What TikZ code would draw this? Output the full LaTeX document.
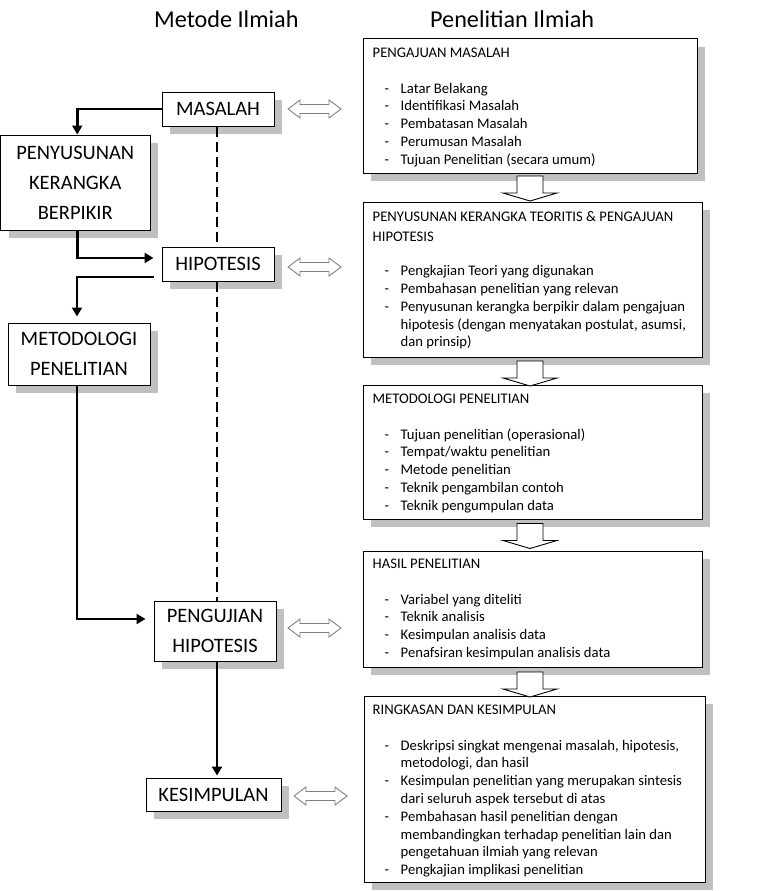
\documentclass[tikz,border=0pt]{standalone}
\usepackage{fontspec}
\setmainfont{Carlito}
\usetikzlibrary{arrows.meta,shadows,calc}
\definecolor{shd}{HTML}{C0C0C0}
\definecolor{dblc}{HTML}{7F7F7F}
\newcommand\rtext[1]{\parbox[t]{322pt}{\fontsize{14.67}{17.8}\selectfont\raggedright #1}}
\newcommand\ritem[1]{\par\noindent\hangindent=28pt\hangafter=1\makebox[28pt][l]{\hspace{12pt}-}#1}
\tikzset{
  lbox/.style={draw, fill=white, line width=1pt, align=center, inner sep=0pt,
    font=\fontsize{20.5}{30}\selectfont,
    drop shadow={shadow xshift=8pt, shadow yshift=-8pt, fill=shd, opacity=1}},
  rbox/.style={draw, fill=white, line width=1pt, inner sep=0pt,
    drop shadow={shadow xshift=8pt, shadow yshift=-8pt, fill=shd, opacity=1}},
  conn/.style={line width=2.6pt, -{Triangle[width=10pt,length=9pt]}},
  dsh/.style={line width=1.6pt, dash pattern=on 10pt off 5pt},
  dblarrow/.pic={\draw[dblc, fill=white, line width=0.9pt] (-26.5,0) -- (-14.5,-9) -- (-14.5,-4.5) -- (14.5,-4.5) -- (14.5,-9) -- (26.5,0) -- (14.5,9) -- (14.5,4.5) -- (-14.5,4.5) -- (-14.5,9) -- cycle;},
  downarr/.pic={\draw[black, fill=white, line width=0.9pt] (-13,-12.5) -- (13,-12.5) -- (13,4.5) -- (27,4.5) -- (0,12.5) -- (-27,4.5) -- (-13,4.5) -- cycle;}
}
\begin{document}
\begin{tikzpicture}[x=1pt,y=-1pt]
\useasboundingbox (0,0) rectangle (768,891);
\fill[white] (0,0) rectangle (768,891);
% titles
\node[anchor=base west, inner sep=0, font=\fontsize{24.2}{28}\selectfont] (tl) at (154,28) {Metode Ilmiah};
\node[anchor=base west, inner sep=0, font=\fontsize{24.2}{28}\selectfont] (tr) at (430,28) {Penelitian Ilmiah};
% left boxes
\node[lbox, minimum width=112pt, minimum height=34pt] (mas) at (218,109) {MASALAH};
\node[lbox, minimum width=149.5pt, minimum height=95pt] (pen) at (75.25,182.5) {PENYUSUNAN\\KERANGKA\\BERPIKIR};
\node[lbox, minimum width=112pt, minimum height=34pt] (hip) at (218,264) {HIPOTESIS};
\node[lbox, minimum width=142pt, minimum height=62pt] (met) at (79,354) {METODOLOGI\\PENELITIAN};
\node[lbox, minimum width=122pt, minimum height=60pt] (pgj) at (215,631) {PENGUJIAN\\HIPOTESIS};
\node[lbox, minimum width=135pt, minimum height=33pt] (kes) at (213.5,794.5) {KESIMPULAN};
% connectors
\draw[dsh] ([xshift=-1pt]mas.south) -- ([xshift=-1pt]mas.south |- hip.north);
\draw[dsh] ([xshift=-1pt]hip.south) -- ([xshift=-1pt]hip.south |- pgj.north);
\draw[conn] (mas.west) -| ([xshift=2pt]pen.north);
\draw[conn] ([xshift=2pt]pen.south) |- ([xshift=-8pt,yshift=6pt]hip.west);
\draw[conn] ([xshift=-8pt,yshift=-13pt]hip.west) -| ([xshift=-2pt,yshift=6pt]met.north);
\draw[conn] ([xshift=-2pt]met.south) |- ([xshift=-8pt,yshift=12pt]pgj.west);
\draw[conn] ([xshift=2pt]pgj.south) -- ([xshift=2pt,yshift=2pt]pgj.south |- kes.north);
% right boxes
\node[rbox, minimum width=334pt, minimum height=134pt] (r1) at (530,106) {};
\node[rbox, minimum width=339pt, minimum height=155pt] (r2) at (532.5,279.5) {};
\node[rbox, minimum width=339pt, minimum height=134pt] (r3) at (532.5,452) {};
\node[rbox, minimum width=339pt, minimum height=116pt] (r4) at (532.5,609) {};
\node[rbox, minimum width=341pt, minimum height=186pt] (r5) at (534.5,789) {};
\node[anchor=base west, inner sep=0] (t1) at ($(r1.north west)+(10,19)$) {\rtext{%
PENGAJUAN MASALAH\par\vspace{17.8pt}%
\ritem{Latar Belakang}
\ritem{Identifikasi Masalah}
\ritem{Pembatasan Masalah}
\ritem{Perumusan Masalah}
\ritem{Tujuan Penelitian (secara umum)}}};
\node[anchor=base west, inner sep=0] (t2) at ($(r2.north west)+(10,20)$) {\rtext{%
PENYUSUNAN KERANGKA TEORITIS \& PENGAJUAN\par\vspace{2.2pt}%
HIPOTESIS\par\vspace{16.4pt}%
\ritem{Pengkajian Teori yang digunakan}
\ritem{Pembahasan penelitian yang relevan}
\ritem{Penyusunan kerangka berpikir dalam pengajuan\newline hipotesis (dengan menyatakan postulat, asumsi,\newline dan prinsip)}}};
\node[anchor=base west, inner sep=0] (t3) at ($(r3.north west)+(10,19)$) {\rtext{%
METODOLOGI PENELITIAN\par\vspace{17.8pt}%
\ritem{Tujuan penelitian (operasional)}
\ritem{Tempat/waktu penelitian}
\ritem{Metode penelitian}
\ritem{Teknik pengambilan contoh}
\ritem{Teknik pengumpulan data}}};
\node[anchor=base west, inner sep=0] (t4) at ($(r4.north west)+(10,18)$) {\rtext{%
HASIL PENELITIAN\par\vspace{17.8pt}%
\ritem{Variabel yang diteliti}
\ritem{Teknik analisis}
\ritem{Kesimpulan analisis data}
\ritem{Penafsiran kesimpulan analisis data}}};
\node[anchor=base west, inner sep=0] (t5) at ($(r5.north west)+(9,19)$) {\rtext{%
RINGKASAN DAN KESIMPULAN\par\vspace{17.8pt}%
\ritem{Deskripsi singkat mengenai masalah, hipotesis,\newline metodologi, dan hasil}
\ritem{Kesimpulan penelitian yang merupakan sintesis\newline dari seluruh aspek tersebut di atas}
\ritem{Pembahasan hasil penelitian dengan\newline membandingkan terhadap penelitian lain dan\newline pengetahuan ilmiah yang relevan}
\ritem{Pengkajian implikasi penelitian}}};
% block arrows between right boxes
\pic at (530,188.5) {downarr};
\pic at (530,373.5) {downarr};
\pic at (530,536) {downarr};
\pic at (530,684.5) {downarr};
% double arrows
\pic at (314.5,109) {dblarrow};
\pic at (314.5,267) {dblarrow};
\pic at (314.5,628) {dblarrow};
\pic at (320.5,796) {dblarrow};
\end{tikzpicture}
\end{document}
